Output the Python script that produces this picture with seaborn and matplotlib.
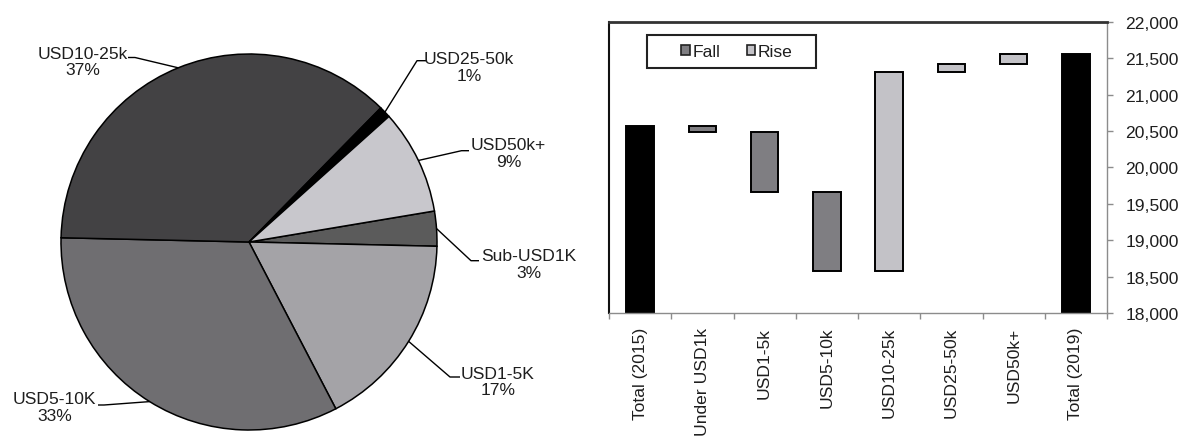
import numpy as np
import pandas as pd
import matplotlib
matplotlib.use("Agg")
import matplotlib.pyplot as plt
from matplotlib.patches import Patch, Rectangle
from matplotlib.ticker import FuncFormatter
import seaborn as sns

# ---- income-band shares (pie) ----
pie_labels = ["Sub-USD1K", "USD1-5K", "USD5-10K", "USD10-25k", "USD25-50k", "USD50k+"]
pie_shares = [3, 17, 33, 37, 1, 9]
pie_colors = ["#5b5b5b", "#a4a3a7", "#6f6e71", "#434244", "#000000", "#c8c7cc"]

# ---- waterfall of households by band ----
wf_categories = ["Total (2015)", "Under USD1k", "USD1-5k", "USD5-10k",
                 "USD10-25k", "USD25-50k", "USD50k+", "Total (2019)"]
total_2015 = 20570
band_changes = [-90, -825, -1075, 2730, 110, 140]
total_2019 = 21560
y_ticks = [18000, 18500, 19000, 19500, 20000, 20500, 21000, 21500, 22000]

FALL_COLOR = "#7f7e82"
RISE_COLOR = "#c3c2c7"
TOTAL_COLOR = "#000000"
TEXT_COLOR = "#1e1e1e"
FS = 12.6

sns.set_style("white")
plt.rcParams["font.family"] = ["Liberation Sans", "DejaVu Sans"]

W, H = 1185, 439
fig = plt.figure(figsize=(W / 100, H / 100), dpi=100)

# ---------------- pie ----------------
cx, cy, R = 249.0, 243.0, 188.0
pie_w = 590
ax1 = fig.add_axes([0, 0, pie_w / W, 1])
wedges, _ = ax1.pie(pie_shares, colors=pie_colors, startangle=9.5, counterclock=False,
                    radius=1, center=(0, 0),
                    wedgeprops=dict(edgecolor="black", linewidth=1.1))
ax1.set_aspect("auto")
ax1.set_xlim((0 - cx) / R, (pie_w - cx) / R)
ax1.set_ylim((cy - H) / R, (cy - 0) / R)
ax1.axis("off")


def to_pie(px, py):
    return (px - cx) / R, (cy - py) / R


# label block centre, elbow of the leader, end of the leader (pixels)
label_layout = {
    "Sub-USD1K": ((529, 265), (471, 261.7), (479, 261.7)),
    "USD1-5K": ((498, 382.5), (450, 378), (460, 378)),
    "USD5-10K": ((54.8, 408), (104, 406), (98, 406)),
    "USD10-25k": ((82.5, 62.5), (135, 58.5), (128, 58.5)),
    "USD25-50k": ((469, 68), (417, 61.7), (427, 61.7)),
    "USD50k+": ((508.5, 154), (461.5, 151.7), (469, 151.7)),
}

for w, name, share in zip(wedges, pie_labels, pie_shares):
    mid = np.deg2rad((w.theta1 + w.theta2) / 2)
    ex, ey = np.cos(mid), np.sin(mid)
    (tx, ty), elbow, end = label_layout[name]
    bx, by = to_pie(*elbow)
    nx, ny = to_pie(*end)
    ax1.plot([ex, bx, nx], [ey, by, ny], color="black", lw=1.0, solid_capstyle="butt")
    px_, py_ = to_pie(tx, ty)
    ax1.text(px_, py_, f"{name}\n{share}%", ha="center", va="center",
             fontsize=FS, color=TEXT_COLOR, linespacing=1.1)

# ---------------- waterfall ----------------
left_px, right_px, top_px, bot_px = 609, 1107, 22.7, 314
ax2 = fig.add_axes([left_px / W, (H - bot_px) / H,
                    (right_px - left_px) / W, (bot_px - top_px) / H])

rows = [dict(category=wf_categories[0], bottom=0, height=total_2015, kind="Total")]
level = total_2015
for cat, ch in zip(wf_categories[1:-1], band_changes):
    new = level + ch
    rows.append(dict(category=cat, bottom=min(level, new), height=abs(ch),
                     kind="Fall" if ch < 0 else "Rise"))
    level = new
rows.append(dict(category=wf_categories[-1], bottom=0, height=total_2019, kind="Total"))
wf = pd.DataFrame(rows)

for kind, color in [("Total", TOTAL_COLOR), ("Fall", FALL_COLOR), ("Rise", RISE_COLOR)]:
    sub = wf[wf["kind"] == kind]
    sns.barplot(data=sub, x="category", y="height", order=wf_categories,
                bottom=sub["bottom"].to_numpy(), color=color, saturation=1,
                edgecolor="black", linewidth=1.4, width=0.44,
                errorbar=None, ax=ax2)

ax2.set_xlim(-0.5, len(wf_categories) - 0.5)
ax2.set_ylim(y_ticks[0], y_ticks[-1])
ax2.set_xlabel("")
ax2.set_ylabel("")

ax2.yaxis.tick_right()
ax2.set_yticks(y_ticks)
ax2.yaxis.set_major_formatter(FuncFormatter(lambda v, _: f"{int(v):,}"))
ax2.tick_params(axis="y", which="major", direction="out", length=4.3, width=1,
                color="#8c8c8c", pad=9, labelsize=FS, labelcolor=TEXT_COLOR,
                left=False, right=True)

ax2.set_xticks(range(len(wf_categories)))
ax2.set_xticklabels(wf_categories, rotation=90)
ax2.set_xticks(np.arange(-0.5, len(wf_categories)), minor=True)
ax2.tick_params(axis="x", which="major", length=0, pad=10, labelsize=FS,
                labelcolor=TEXT_COLOR)
ax2.tick_params(axis="x", which="minor", direction="out", length=4.3, width=1,
                color="#8c8c8c", bottom=True)

for side, col, lw in [("left", "#111111", 1.5), ("top", "#333333", 2.0),
                      ("right", "#8c8c8c", 1.0), ("bottom", "#8c8c8c", 1.0)]:
    ax2.spines[side].set_visible(True)
    ax2.spines[side].set_color(col)
    ax2.spines[side].set_linewidth(lw)

# legend with a hand-placed frame
ax_w, ax_h = right_px - left_px, bot_px - top_px
fx0, fx1 = (647 - left_px) / ax_w, (816 - left_px) / ax_w
fy0, fy1 = (bot_px - 69) / ax_h, (bot_px - 36) / ax_h
ax2.add_patch(Rectangle((fx0, fy0), fx1 - fx0, fy1 - fy0, transform=ax2.transAxes,
                        fill=False, edgecolor="#222222", linewidth=1.5, zorder=5))
handles = [Patch(facecolor=FALL_COLOR, edgecolor="#222222", linewidth=1.2, label="Fall"),
           Patch(facecolor=RISE_COLOR, edgecolor="#222222", linewidth=1.2, label="Rise")]
ax2.legend(handles=handles, loc="center", ncol=2, frameon=False,
           bbox_to_anchor=((737 - left_px) / ax_w, (fy0 + fy1) / 2),
           handlelength=0.5, handleheight=0.5, handletextpad=0.15,
           columnspacing=1.5, fontsize=FS, labelcolor=TEXT_COLOR,
           borderaxespad=0, borderpad=0)

fig.savefig("out.png", dpi=100)
